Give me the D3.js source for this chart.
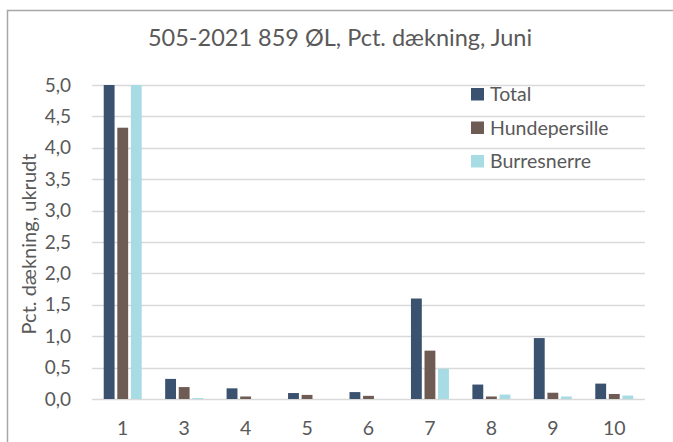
<!DOCTYPE html>
<html>
<head>
<meta charset="utf-8">
<script src="https://cdn.jsdelivr.net/npm/d3@7"></script>
<style>
	body { margin: 0; background: #fff; }
	text { font-family: Lato, "Open Sans", sans-serif; fill: #595959; }
</style>
</head>
<body>
<svg id="chart"></svg>
<script>
let categories = ["1", "3", "4", "5", "6", "7", "8", "9", "10"];
let seriesNames = ["Total", "Hundepersille", "Burresnerre"];
let total = [5.0, 0.32, 0.17, 0.095, 0.11, 1.6, 0.23, 0.97, 0.245];
let hundepersille = [4.32, 0.19, 0.04, 0.065, 0.05, 0.77, 0.04, 0.10, 0.08];
let burresnerre = [5.0, 0.016, 0, 0, 0, 0.48, 0.07, 0.04, 0.055];
let yTicks = [0, 0.5, 1, 1.5, 2, 2.5, 3, 3.5, 4, 4.5, 5];
let colors = ["#3b5170", "#6e5b53", "#a8dce4"];

function makeChart() {
	let w = 673;
	let h = 442;
	let marginT = 85;
	let marginL = 92;
	let marginR = 28;
	let marginB = 43;

	let chart = d3.select('#chart')
		.attr('width', w)
		.attr('height', h);

	// outer frame
	chart.append('rect')
		.attr('x', 7.5).attr('y', 10.5)
		.attr('width', 700).attr('height', 500)
		.style('fill', 'none')
		.style('stroke', '#a6a6a6')
		.style('stroke-width', 1.5);

	let dataset = categories.map((c, i) => ({
		cat: c,
		vals: [total[i], hundepersille[i], burresnerre[i]]
	}));

	let xScale = d3.scaleBand()
		.domain(categories)
		.range([marginL, w - marginR]);

	let x1 = d3.scaleBand()
		.domain(seriesNames)
		.range([0, 38])
		.paddingInner(0.2);

	let yScale = d3.scaleLinear()
		.domain([0, 5])
		.range([h - marginB, marginT])
		.clamp(true);

	// gridlines
	chart.append('g')
		.selectAll('line')
		.data(yTicks)
		.enter()
		.append('line')
		.attr('x1', marginL)
		.attr('x2', w - marginR)
		.attr('y1', d => Math.round(yScale(d)) + 0.5)
		.attr('y2', d => Math.round(yScale(d)) + 0.5)
		.style('stroke', '#d9d9d9')
		.style('stroke-width', 1.3);

	// y tick labels
	let yAxis = d3.axisLeft(yScale)
		.tickValues(yTicks)
		.tickSize(0)
		.tickPadding(0)
		.tickFormat(d => d3.format('.1f')(d).replace('.', ','));

	chart.append('g')
		.attr('transform', 'translate(71, 0)')
		.call(yAxis)
		.call(g => g.select('.domain').remove())
		.selectAll('text')
		.style('font-size', '19px');

	// x labels
	let xAxis = d3.axisBottom(xScale).tickSize(0).tickPadding(0);
	chart.append('g')
		.attr('transform', `translate(0, ${h - marginB + 22})`)
		.call(xAxis)
		.call(g => g.select('.domain').remove())
		.selectAll('text')
		.style('font-size', '19.5px');

	// bars
	let groups = chart.selectAll('.group')
		.data(dataset)
		.enter()
		.append('g')
		.attr('class', 'group')
		.attr('transform', d => `translate(${xScale(d.cat) + xScale.bandwidth() / 2 - 19}, 0)`);

	groups.selectAll('rect')
		.data(d => d.vals.map((v, i) => ({ name: seriesNames[i], v: v, i: i })))
		.enter()
		.append('rect')
		.attr('x', d => x1(d.name))
		.attr('width', x1.bandwidth())
		.attr('y', d => yScale(d.v))
		.attr('height', d => yScale(0) - yScale(d.v))
		.style('fill', d => colors[d.i]);

	// title
	chart.append('text')
		.attr('x', 340)
		.attr('y', 46)
		.style('text-anchor', 'middle')
		.style('font-size', '23.5px')
		.text('505-2021 859 ØL, Pct. dækning, Juni');

	// y-axis label
	chart.append('text')
		.attr('transform', 'rotate(-90)')
		.attr('x', -244)
		.attr('y', 36)
		.style('text-anchor', 'middle')
		.style('font-size', '20px')
		.text('Pct. dækning, ukrudt');

	// legend
	let legend = chart.selectAll('.legend')
		.data(seriesNames)
		.enter()
		.append('g')
		.attr('class', 'legend')
		.attr('transform', (d, i) => `translate(471, ${88 + i * 33.5})`);

	legend.append('rect')
		.attr('width', 13)
		.attr('height', 12.5)
		.style('fill', (d, i) => colors[i]);

	legend.append('text')
		.attr('x', 19)
		.attr('y', 13)
		.style('font-size', '19.5px')
		.text(d => d);
}

window.onload = function () {
	makeChart();
}
</script>
</body>
</html>
